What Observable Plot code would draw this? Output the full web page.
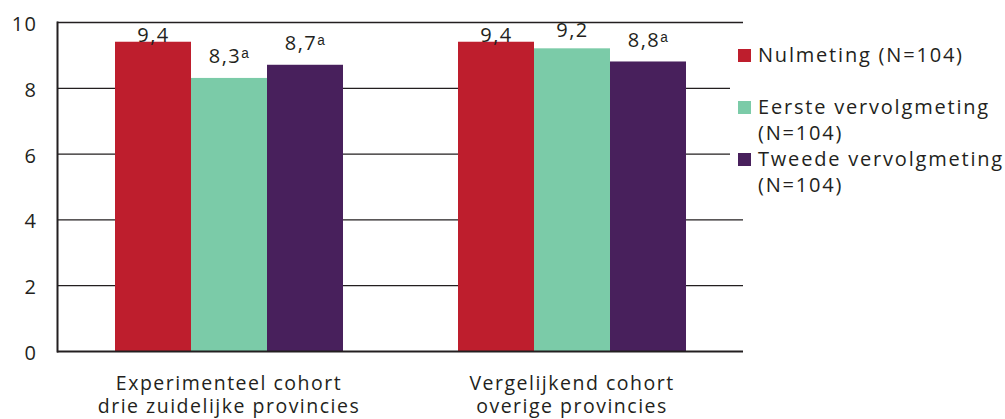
<!DOCTYPE html>
<html>
<head>
<meta charset="utf-8">
<script src="https://cdn.jsdelivr.net/npm/d3@7"></script>
<script src="https://cdn.jsdelivr.net/npm/@observablehq/plot@0.6"></script>
<style>
  html, body { margin: 0; padding: 0; background: #fff; }
  #wrap { position: relative; width: 1005px; height: 419px; overflow: hidden; font-family: "Open Sans", sans-serif; color: #231f20; }
  #legend { position: absolute; left: 730px; top: 30px; width: 275px; height: 175px; background: #fff; }
  .item { position: relative; padding-left: 28px; font-size: 20px; line-height: 26px; letter-spacing: 1.8px; white-space: pre; }
  .item .sw { position: absolute; left: 8px; top: 7px; width: 13px; height: 13px; }
</style>
</head>
<body>
<div id="wrap"></div>
<script>
const categories = ["Experimenteel cohort\ndrie zuidelijke provincies", "Vergelijkend cohort\noverige provincies"];
const series = ["Nulmeting", "Eerste vervolgmeting", "Tweede vervolgmeting"];
const legendLabels = ["Nulmeting (N=104)", "Eerste vervolgmeting\n(N=104)", "Tweede vervolgmeting\n(N=104)"];
const colors = ["#be1e2d", "#7bcba8", "#48205c"];
const values = [[9.4, 8.3, 8.7], [9.4, 9.2, 8.8]];
const significant = [[false, true, true], [false, false, true]];
const yTicks = [0, 2, 4, 6, 8, 10];

const rows = [];
categories.forEach((c, i) => series.forEach((s, j) => rows.push({
  cohort: c, meting: s, value: values[i][j],
  label: values[i][j].toFixed(1).replace(".", ",") + (significant[i][j] ? "ᵃ" : "")
})));

const chart = Plot.plot({
  width: 1005,
  height: 419,
  marginLeft: 57,
  marginRight: 262,
  marginTop: 22,
  marginBottom: 68,
  style: { fontFamily: "Open Sans, sans-serif", fontSize: "20px", color: "#231f20", letterSpacing: "1.5px", background: "#fff" },
  fx: { domain: categories, paddingInner: 0, paddingOuter: 0, label: null },
  x: { domain: series, paddingInner: 0, paddingOuter: 0.75, axis: null },
  y: { domain: [0, 10], label: null },
  color: { domain: series, range: colors },
  marks: [
    Plot.ruleY(yTicks.filter(d => d > 0), { stroke: "#231f20", strokeWidth: 1.3 }),
    Plot.barY(rows, { fx: "cohort", x: "meting", y: "value", fill: "meting" }),
    Plot.ruleY([0], { stroke: "#231f20", strokeWidth: 2 }),
    Plot.frame({ anchor: "left", facet: "super", stroke: "#231f20", strokeWidth: 2 }),
    Plot.text(rows, {
      fx: "cohort", x: "meting",
      y: d => d.value > 9.3 ? d.value : Math.min(d.value + 0.47, 9.55),
      text: "label", lineAnchor: "bottom", fontSize: 20, fill: "#231f20"
    }),
    Plot.axisY({ ticks: yTicks, tickSize: 0, tickPadding: 20, dy: 2, label: null, fontSize: 20, fill: "#231f20" }),
    Plot.axisFx({ anchor: "bottom", tickSize: 0, tickPadding: 22, label: null, fontSize: 19.5, lineHeight: 1.18, fill: "#231f20" })
  ]
});

const wrap = document.getElementById("wrap");
wrap.appendChild(chart);

const legend = document.createElement("div");
legend.id = "legend";
legendLabels.forEach((l, i) => {
  const it = document.createElement("div");
  it.className = "item";
  if (i === 0) { it.style.marginTop = "12px"; it.style.marginBottom = "26px"; }
  const sw = document.createElement("span");
  sw.className = "sw";
  sw.style.background = colors[i];
  it.appendChild(sw);
  it.appendChild(document.createTextNode(l));
  legend.appendChild(it);
});
wrap.appendChild(legend);
</script>
</body>
</html>
